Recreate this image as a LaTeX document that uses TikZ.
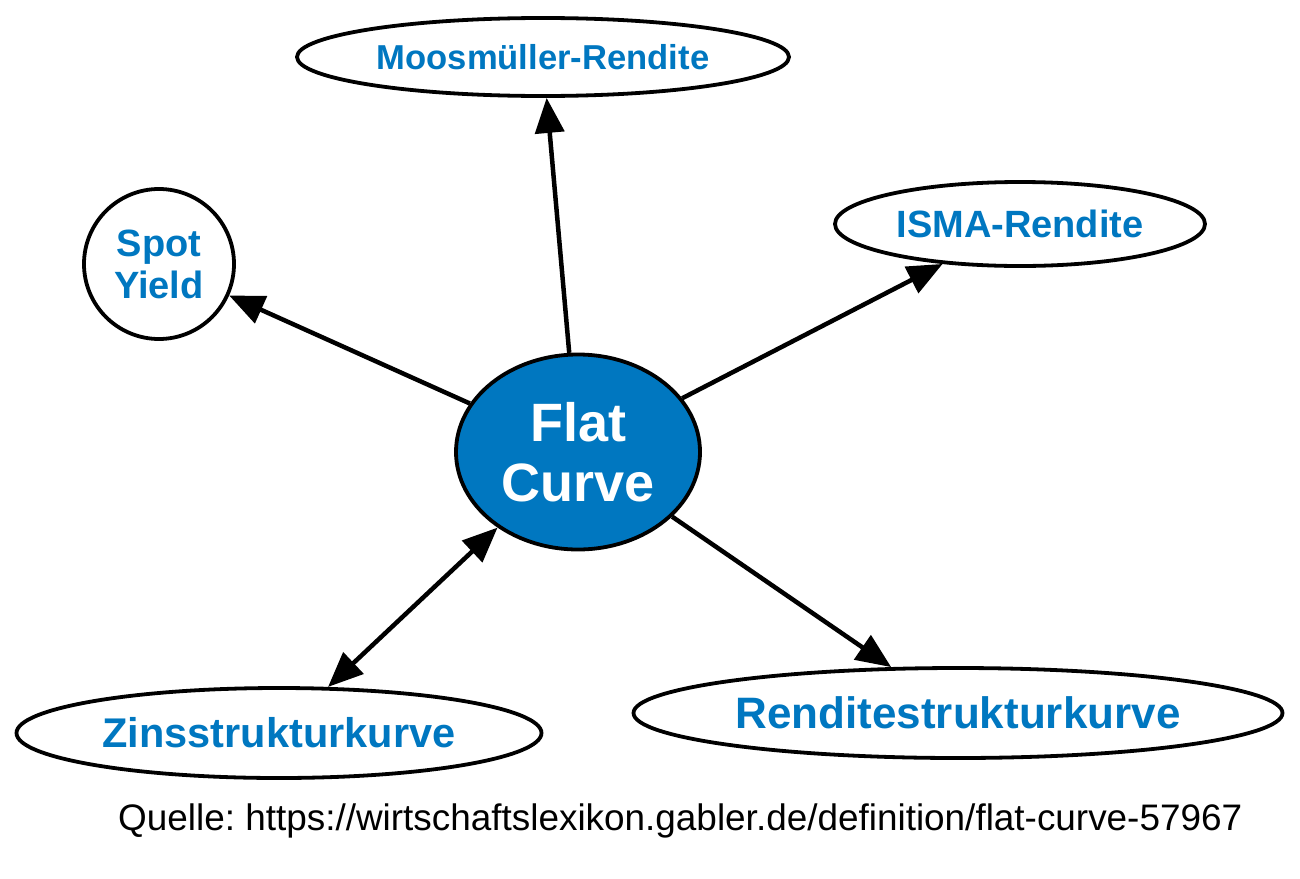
\documentclass[tikz,border=0pt]{standalone}
\usepackage{fontspec}
\setmainfont{Liberation Sans}
\usetikzlibrary{shapes.geometric,arrows.meta}
\definecolor{gblue}{RGB}{0,119,192}
\frenchspacing
\tikzset{
  nd/.style={draw=black,line width=3.8pt,ellipse,inner sep=0pt,font=\bfseries,text=gblue,align=center},
  edge/.style={line width=4.5pt,-{Triangle[length=35pt,width=29pt]}},
  bedge/.style={line width=4.5pt,{Triangle[length=35pt,width=29pt]}-{Triangle[length=35pt,width=29pt]}}
}
\begin{document}
\begin{tikzpicture}[x=1pt,y=-1pt]
\useasboundingbox (0,0) rectangle (1300,878);
\node[nd,fill=gblue,text=white,minimum width=244pt,minimum height=195pt,font=\bfseries\fontsize{54}{60}\selectfont] (flat) at (578,452) {Flat\\Curve};
\node[nd,minimum width=492pt,minimum height=78pt,font=\bfseries\fontsize{34.6}{40}\selectfont] (moos) at (543,57) {Moosmüller-Rendite};
\node[nd,minimum width=370pt,minimum height=84pt,font=\bfseries\fontsize{38}{44}\selectfont] (isma) at (1020,224) {ISMA-Rendite};
\node[nd,circle,minimum size=150pt,font=\bfseries\fontsize{38}{42}\selectfont] (spot) at (159,264) {Spot\\Yield};
\node[nd,minimum width=525pt,minimum height=90pt,font=\bfseries\fontsize{41.5}{48}\selectfont] (zins) at (279,733) {Zinsstrukturkurve};
\node[nd,minimum width=649pt,minimum height=90pt,font=\bfseries\fontsize{44}{50}\selectfont] (rend) at (958,713) {Renditestrukturkurve};
\node[anchor=base west,inner sep=0pt,font=\fontsize{36.9}{44}\selectfont] (src) at (118,830) {Quelle: https://wirtschaftslexikon.gabler.de/definition/flat-curve-57967};
\draw[edge] (flat) -- (moos);
\draw[edge] (flat) -- (isma);
\draw[edge] (flat) -- (spot);
\draw[bedge] (flat) -- (zins);
\draw[edge] (flat) -- (rend);
\end{tikzpicture}
\end{document}
